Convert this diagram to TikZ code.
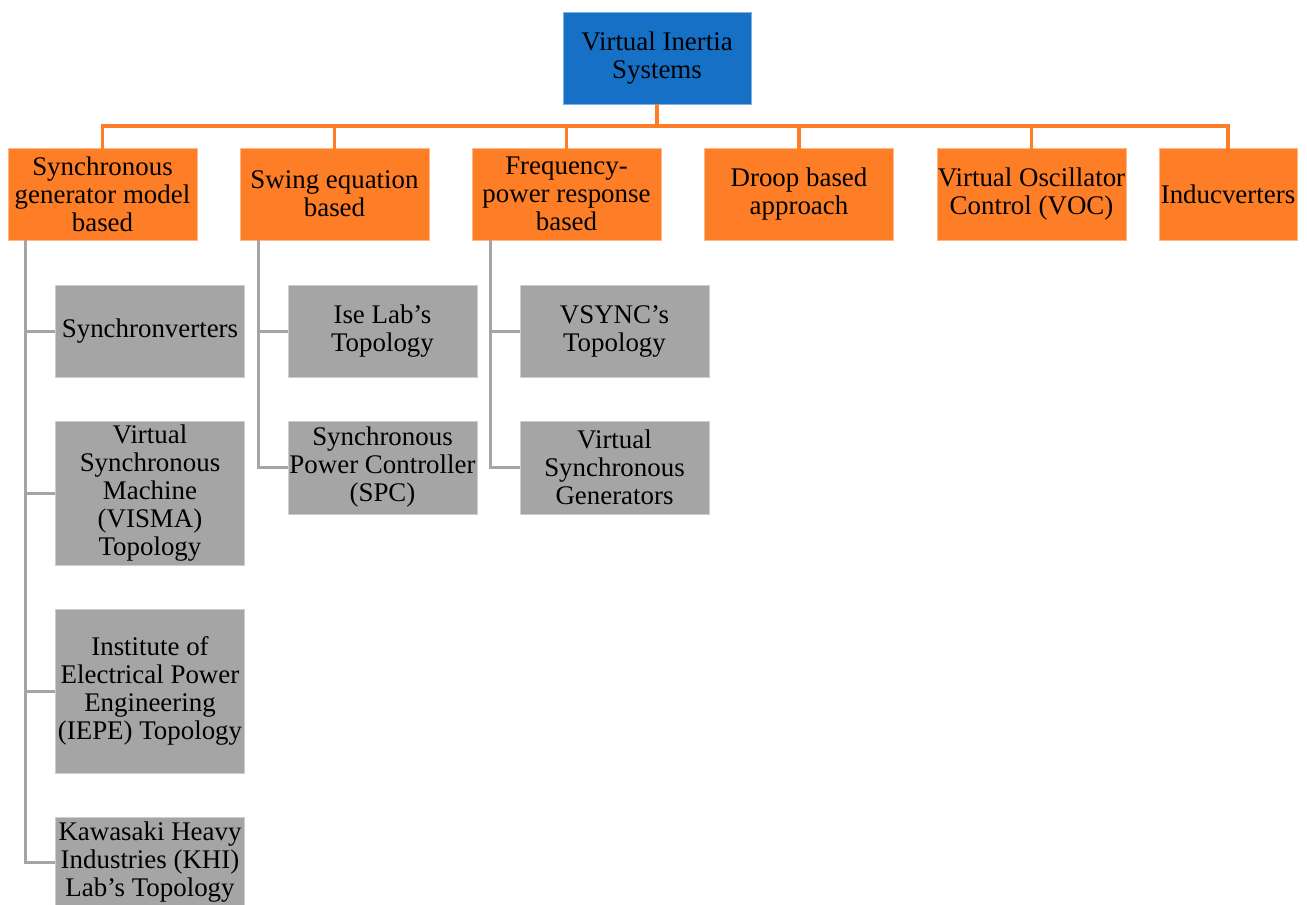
\documentclass[tikz,border=0pt]{standalone}
\usepackage{fontspec}
\setmainfont{Liberation Serif}
\definecolor{rootblue}{RGB}{21,112,198}
\definecolor{catorange}{RGB}{253,126,38}
\definecolor{leafgray}{RGB}{165,165,165}
\begin{document}
\begin{tikzpicture}[x=1pt,y=-1pt,
  box/.style={rectangle,inner sep=0pt,align=center,text=black,
    font=\fontsize{26.9}{28}\selectfont,line width=0.8pt},
  rootbox/.style={box,fill=rootblue,draw=rootblue!55!white,minimum width=188pt,minimum height=92pt},
  catbox/.style={box,fill=catorange,draw=catorange!55!white,minimum width=189pt,minimum height=92pt},
  leafbox/.style={box,fill=leafgray,draw=leafgray!55!white,minimum width=189pt},
  catlink/.style={draw=catorange,line width=3.2pt},
  leaflink/.style={draw=leafgray,line width=3pt}]
\useasboundingbox (0,0) rectangle (1307,905);

% root
\node[rootbox] (root) at (657,58) {Virtual Inertia\\Systems};

% categories
\node[catbox] (c1) at (102.5,194) {Synchronous\\generator model\\based};
\node[catbox] (c2) at (334.5,194) {Swing equation\\based};
\node[catbox] (c3) at (566.5,194) {Frequency-\\power response\\based};
\node[catbox] (c4) at (799,194) {Droop based\\approach};
\node[catbox] (c5) at (1031.5,194) {Virtual Oscillator\\Control (VOC)};
\node[catbox,minimum width=138pt] (c6) at (1228,194) {Inducverters};

% leaves, first column
\node[leafbox,minimum height=92pt] (l11) at (150,331) {Synchronverters};
\node[leafbox,minimum height=144pt] (l12) at (150,493) {Virtual\\Synchronous\\Machine\\(VISMA)\\Topology};
\node[leafbox,minimum height=164pt] (l13) at (150,691) {Institute of\\Electrical Power\\Engineering\\(IEPE) Topology};
\node[leafbox,minimum height=90pt] (l14) at (150,862) {Kawasaki Heavy\\Industries (KHI)\\Lab’s Topology};

% leaves, second column
\node[leafbox,minimum height=92pt] (l21) at (382.5,331) {Ise Lab’s\\Topology};
\node[leafbox,minimum height=93pt] (l22) at (382.5,467.5) {Synchronous\\Power Controller\\(SPC)};

% leaves, third column
\node[leafbox,minimum height=92pt] (l31) at (614.5,331) {VSYNC’s\\Topology};
\node[leafbox,minimum height=93pt] (l32) at (614.5,467.5) {Virtual\\Synchronous\\Generators};

% root to categories
\coordinate (bus) at (657,126);
\draw[catlink] (root.south) -- (bus);
\foreach \c in {c1,c2,c3,c4,c5,c6}
  \draw[catlink,line cap=rect] (\c.north) -- (\c.north |- bus) -- (bus);

% categories to leaves
\coordinate (t1) at (25,240);
\coordinate (t2) at (258,240);
\coordinate (t3) at (490,240);
\draw[leaflink] (t1) -- (t1 |- l14.west) -- (l14.west);
\foreach \l in {l11,l12,l13}
  \draw[leaflink] (t1 |- \l.west) -- (\l.west);
\draw[leaflink] (t2) -- (t2 |- l22.west) -- (l22.west);
\draw[leaflink] (t2 |- l21.west) -- (l21.west);
\draw[leaflink] (t3) -- (t3 |- l32.west) -- (l32.west);
\draw[leaflink] (t3 |- l31.west) -- (l31.west);
\end{tikzpicture}
\end{document}
